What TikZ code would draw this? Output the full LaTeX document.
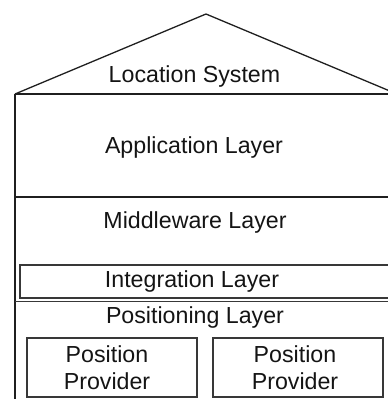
\documentclass[tikz,border=0pt]{standalone}
\usepackage{fontspec}
\setmainfont{Liberation Sans}
\begin{document}
\begin{tikzpicture}[x=1pt,y=-1pt,
  rule/.style={draw=black!88, line width=1.3pt},
  thin rule/.style={draw=black!78, line width=1.1pt},
  lbl/.style={anchor=base, inner sep=0pt, font=\fontsize{23.2}{27}\selectfont, text=black!92},
  provider/.style={thin rule, minimum width=170pt, minimum height=59pt, inner sep=0pt},
  providertext/.style={inner sep=0pt, align=center, font=\fontsize{23.2}{27}\selectfont, text=black!92}]
  \useasboundingbox (0,0) rectangle (388,399);
  \clip (0,0) rectangle (388,399);
  % roof and outer frame
  \coordinate (apex) at (206,14);
  \coordinate (eaveL) at (15,94);
  \coordinate (eaveR) at (397,94);
  \coordinate (footL) at (15,420);
  \draw[rule] (eaveL) -- (apex) -- (eaveR);
  \draw[rule] (eaveL) -- (eaveR);
  \draw[rule] (eaveL) -- (footL);
  % layer dividers
  \coordinate (d1L) at (15,197);
  \coordinate (d1R) at (397,197);
  \coordinate (d2L) at (15,301.5);
  \coordinate (d2R) at (397,301.5);
  \draw[rule] (d1L) -- (d1R);
  \draw[thin rule] (d2L) -- (d2R);
  % integration layer band
  \coordinate (intA) at (20,265);
  \coordinate (intB) at (392,298);
  \draw[thin rule] (intA) rectangle (intB);
  % labels
  \node[lbl] (sys) at (194.5,82) {Location System};
  \node[lbl] (app) at (194,153) {Application Layer};
  \node[lbl] (mid) at (195,228) {Middleware Layer};
  \node[lbl] (int) at (192,287) {Integration Layer};
  \node[lbl] (pos) at (195,323) {Positioning Layer};
  % position providers
  \node[provider] (pp1) at (112,367.5) {};
  \node[provider] (pp2) at (298,367.5) {};
  \node[providertext] (pp1t) at (107,368) {Position\\Provider};
  \node[providertext] (pp2t) at (295,368) {Position\\Provider};
\end{tikzpicture}
\end{document}
